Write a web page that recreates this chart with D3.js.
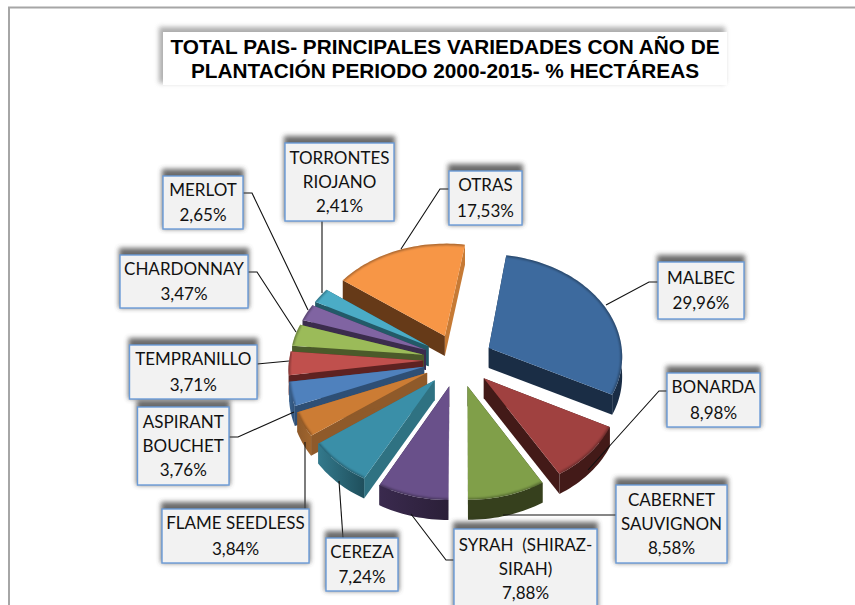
<!DOCTYPE html>
<html><head><meta charset="utf-8">
<style>html,body{margin:0;padding:0;background:#fff;overflow:hidden}svg{display:block}</style>
<script src="https://cdn.jsdelivr.net/npm/d3@7"></script></head>
<body><svg id="c" width="855" height="605"></svg>
<script>
// ---- data ----
const categories = ["MALBEC","BONARDA","CABERNET SAUVIGNON","SYRAH  (SHIRAZ-SIRAH)","CEREZA","FLAME SEEDLESS","ASPIRANT BOUCHET","TEMPRANILLO","CHARDONNAY","MERLOT","TORRONTES RIOJANO","OTRAS"];
const values = [29.96,8.98,8.58,7.88,7.24,3.84,3.76,3.71,3.47,2.65,2.41,17.53];
const labelLines = [["MALBEC"],["BONARDA"],["CABERNET","SAUVIGNON"],["SYRAH  (SHIRAZ-","SIRAH)"],["CEREZA"],["FLAME SEEDLESS"],["ASPIRANT","BOUCHET"],["TEMPRANILLO"],["CHARDONNAY"],["MERLOT"],["TORRONTES","RIOJANO"],["OTRAS"]];
const titleLines = ["TOTAL PAIS- PRINCIPALES VARIEDADES CON AÑO DE","PLANTACIÓN PERIODO 2000-2015- % HECTÁREAS"];
// ---- styles ----
const topColors  = ["#3d6a9e","#a04140","#809f49","#69508a","#3a8fa8","#cc7c34","#4f81bd","#c0504d","#9bbb59","#8064a2","#4bacc6","#f79646"];
const startWall  = ["#1a2d45","#431a18","#36401d","#2c203b","#2f7282","#8f5a2a","#2e4f75","#5e2221","#4b5a2a","#3b2c4d","#235a68","#663a18"];
const endWall    = ["#1a2d45","#431a18","#36401d","#2c203b","#2f7282","#8f5a2a","#2e4f75","#5e2221","#4b5a2a","#3b2c4d","#235a68","#c67a35"];
const outerA     = ["#1a2d45","#431a18","#36401d","#3a2a4e","#33798c","#8f5a2a","#3a6390","#5e2221","#4b5a2a","#3b2c4d","#235a68","#c67a35"];
const outerB     = ["#1a2d45","#431a18","#36401d","#2b1f38","#1f4f5c","#a0652e","#2e4f75","#5e2221","#4b5a2a","#3b2c4d","#235a68","#c67a35"];
// ---- layout: label boxes [x,y,w,h] and leader polylines ----
const boxes = [[658,262,86,57],[667,373,93,54],[616,485,111,78],[454,529,143,80],[326,538,72,53],[162,509,147,54],[137.5,407,91.5,78],[129.5,345,127.5,54],[120,255,128,53],[163,176,80,53],[285,143,109,78],[449,171,73,54]];
const leaders = [
 [[658,282],[649,282],[606,305]],
 [[667,391],[659,391],[588,470]],
 [[616,515],[503,515]],
 [[454,560],[446,560],[411,514]],
 [[343,538],[339,481]],
 [[305,509],[305,442]],
 [[229,437],[238,437],[294,412]],
 [[257,364],[289,361]],
 [[248,272],[257,272],[296,332]],
 [[243,193],[252,193],[308,310]],
 [[322,221],[322,293]],
 [[449,189],[440,189],[401,249]]
];
const cx=458, cy=360, Rx=134, Ry=102, persp=0.07, explode=0.26, depth=20, startDeg=9;

const svg=d3.select("#c");
const defs=svg.append("defs");
const blur=(id,s)=>defs.append("filter").attr("id",id).attr("x","-20%").attr("y","-40%").attr("width","140%").attr("height","180%")
  .append("feGaussianBlur").attr("stdDeviation",s);
blur("sh",2.5); blur("rim",1);

// chart frame
svg.append("path").attr("d","M9,605V7.5H855").attr("fill","none").attr("stroke","#a6a6a6").attr("stroke-width",2);

// title
svg.append("rect").attr("x",159).attr("y",27).attr("width",566).attr("height",56).attr("fill","#777").attr("opacity",.6).attr("filter","url(#sh)");
svg.append("rect").attr("x",163).attr("y",32).attr("width",564).attr("height",53).attr("fill","#fff");
svg.append("g").selectAll("text").data(titleLines).join("text")
  .attr("x",445).attr("y",(d,i)=>54+i*23.5).attr("text-anchor","middle")
  .attr("font-family","'Liberation Sans',Arial,sans-serif").attr("font-weight","bold").attr("font-size",20.8).attr("fill","#000").text(d=>d);

// pie geometry
const pie=d3.pie().sort(null).value(d=>d).startAngle(startDeg*Math.PI/180).endAngle((startDeg+360)*Math.PI/180);
const arcs=pie(values).map((a,i)=>({...a,i,mid:(a.startAngle+a.endAngle)/2}));
const sx=d3.scaleLinear().domain([-1,1]).range([cx-Rx,cx+Rx]);
const sy=d3.scaleLinear().domain([-1,1]).range([cy-Ry,cy+Ry]);
function proj(a,r,mid,dz){
  const X=r*Math.sin(a)+explode*Math.sin(mid), Y=-r*Math.cos(a)-explode*Math.cos(mid);
  const f=1/(1-persp*Y);
  return [sx(X*f), sy(Y*f)+(dz||0)];
}
const line=d3.line(), closed=d3.line().curve(d3.curveLinearClosed);
function arcPts(a0,a1,mid,dz){
  const n=Math.max(2,Math.ceil((a1-a0)/0.03));
  return d3.range(n+1).map(k=>proj(a0+(a1-a0)*k/n,1,mid,dz));
}
function wall(a,mid){ return [proj(a,0,mid,0),proj(a,1,mid,0),proj(a,1,mid,depth),proj(a,0,mid,depth)]; }
const order=arcs.slice().sort((p,q)=>(-Math.cos(p.mid))-(-Math.cos(q.mid)));
const g=svg.append("g");
order.forEach(d=>{
  const gs=g.append("g");
  const gid="o"+d.i;
  const lg=defs.append("linearGradient").attr("id",gid);
  lg.append("stop").attr("offset",0).attr("stop-color",outerA[d.i]);
  lg.append("stop").attr("offset",1).attr("stop-color",outerB[d.i]);
  gs.append("path").attr("d",closed(wall(d.startAngle,d.mid))).attr("fill",startWall[d.i]);
  gs.append("path").attr("d",closed(wall(d.endAngle,d.mid))).attr("fill",endWall[d.i]);
  const P=Math.PI;
  [[P/2,3*P/2],[2*P+P/2,2*P+3*P/2]].forEach(([lo,hi])=>{
    const a0=Math.max(lo,d.startAngle), a1=Math.min(hi,d.endAngle);
    if(a1>a0){
      const top=arcPts(a0,a1,d.mid,0), bot=arcPts(a0,a1,d.mid,depth).reverse();
      gs.append("path").attr("d",closed(top.concat(bot))).attr("fill",`url(#${gid})`);
    }
  });
  const face=[proj(0,0,d.mid,0)].concat(arcPts(d.startAngle,d.endAngle,d.mid,0));
  const cid="cf"+d.i;
  defs.append("clipPath").attr("id",cid).append("path").attr("d",closed(face));
  gs.append("path").attr("d",closed(face)).attr("fill",topColors[d.i]);
  gs.append("g").attr("clip-path",`url(#${cid})`).append("path")
    .attr("d",line(arcPts(d.startAngle,d.endAngle,d.mid,0))).attr("fill","none")
    .attr("stroke","#000").attr("stroke-opacity",.35).attr("stroke-width",3).attr("filter","url(#rim)");
});

// leaders
svg.append("g").selectAll("path").data(leaders).join("path")
  .attr("d",d=>line(d)).attr("fill","none").attr("stroke","#111").attr("stroke-width",1.1);

// labels
const fmt=v=>v.toFixed(2).replace(".",",")+"%";
const lab=svg.append("g").selectAll("g").data(categories).join("g");
lab.append("rect").attr("x",(d,i)=>boxes[i][0]-1).attr("y",(d,i)=>boxes[i][1]-7)
  .attr("width",(d,i)=>boxes[i][2]+2).attr("height",(d,i)=>boxes[i][3]+7)
  .attr("fill","#444").attr("opacity",.8).attr("filter","url(#sh)");
lab.append("rect").attr("x",(d,i)=>boxes[i][0]).attr("y",(d,i)=>boxes[i][1])
  .attr("width",(d,i)=>boxes[i][2]).attr("height",(d,i)=>boxes[i][3])
  .attr("fill","#f2f2f2").attr("stroke","#6a9bd8").attr("stroke-width",1.4);
lab.each(function(d,i){
  const ls=labelLines[i].concat(fmt(values[i]));
  const lh=ls.length===2?25.5:24, mx=boxes[i][0]+boxes[i][2]/2;
  const my=(i===3?boxes[i][1]+39.5:boxes[i][1]+boxes[i][3]/2);
  d3.select(this).selectAll("text").data(ls).join("text")
    .attr("x",mx).attr("y",(t,k)=>my+(k-(ls.length-1)/2)*lh+6)
    .attr("text-anchor","middle").attr("xml:space","preserve").style("white-space","pre")
    .attr("font-family","Lato,'Open Sans',sans-serif").attr("font-size",17).attr("fill","#111").text(t=>t);
});
</script></body></html>
